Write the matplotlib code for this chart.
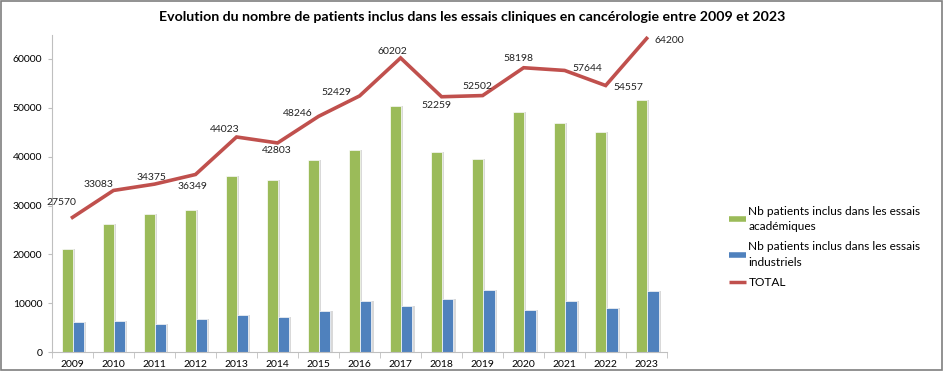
import matplotlib.pyplot as plt
from matplotlib.lines import Line2D
from matplotlib.patches import Rectangle
import numpy as np

plt.rcParams['font.family'] = ['Lato', 'DejaVu Sans']

years = ['2009', '2010', '2011', '2012', '2013', '2014', '2015', '2016',
         '2017', '2018', '2019', '2020', '2021', '2022', '2023']
academiques = [21000, 26300, 28300, 29000, 36000, 35200, 39300, 41400,
               50400, 41000, 39500, 49100, 46800, 45100, 51500]
industriels = [6100, 6350, 5800, 6800, 7600, 7200, 8500, 10500,
               9350, 10900, 12700, 8700, 10400, 9100, 12400]
total = [27570, 33083, 34375, 36349, 44023, 42803, 48246, 52429,
         60202, 52259, 52502, 58198, 57644, 54557, 64200]

# label offsets in pixels (dx, dy) relative to each point
label_off = [(-11, 15), (-15, 6), (-3, 7), (-3, -12), (-12, 7), (-1, -8),
             (-21, 3), (-23, 3), (-8, 6), (-5, -9), (-5, 9), (-5, 9),
             (23, 1.5), (23, -1.5), (23, -2.5)]

GREEN = '#9BBB59'
BLUE = '#4F81BD'
RED = '#C0504D'
AXC = '#bfbfbf'

fig = plt.figure(figsize=(9.45, 3.71), dpi=100)
ax = fig.add_axes([0.055, 0.051, 0.651, 0.856])

x = np.arange(len(years))
w = 0.27
# light shadows on the right side of bars
ax.bar(x - 0.13 + 0.05, academiques, w, color='#d9d9d9', zorder=1)
ax.bar(x + 0.155 + 0.05, industriels, w, color='#d9d9d9', zorder=1)
ax.bar(x - 0.13, academiques, w, color=GREEN, edgecolor='white', linewidth=0.5, zorder=2)
ax.bar(x + 0.155, industriels, w, color=BLUE, edgecolor='white', linewidth=0.5, zorder=2)
ax.plot(x, total, color=RED, lw=2.6, zorder=3, solid_joinstyle='miter')

for xi, v, (dx, dy) in zip(x, total, label_off):
    ax.annotate(str(v), (xi, v), xytext=(dx, dy), textcoords='offset pixels',
                ha='center', va='center', fontsize=7.5, color='#222222')

ax.set_xlim(-0.5, len(years) - 0.5)
ax.set_ylim(0, 65000)
ax.set_yticks(range(0, 60001, 10000))
ax.set_xticks(x)
ax.set_xticklabels(years)
ax.set_xticks(np.arange(-0.5, len(years), 1), minor=True)
ax.tick_params(axis='x', which='major', length=0, labelsize=7.5, pad=6)
ax.tick_params(axis='x', which='minor', length=4, color=AXC)
ax.tick_params(axis='y', length=3, color=AXC, labelsize=7.5, pad=4)
for s in ['top', 'right']:
    ax.spines[s].set_visible(False)
for s in ['left', 'bottom']:
    ax.spines[s].set_color(AXC)

fig.text(0.5, 0.955, 'Evolution du nombre de patients inclus dans les essais cliniques en cancérologie entre 2009 et 2023',
         ha='center', va='center', fontsize=10.2, fontweight='bold')

handles = [Line2D([], [], color=GREEN, lw=4, solid_capstyle='butt'),
           Line2D([], [], color=BLUE, lw=4, solid_capstyle='butt'),
           Line2D([], [], color=RED, lw=2.5, solid_capstyle='butt')]
labels = ['Nb patients inclus dans les essais\nacadémiques',
          'Nb patients inclus dans les essais\nindustriels',
          'TOTAL']
leg = fig.legend(handles, labels, loc='upper left', bbox_to_anchor=(0.771, 0.445),
                 frameon=False, fontsize=8.6, handlelength=1.45, handletextpad=0.2,
                 labelspacing=0.75, borderpad=0, borderaxespad=0)
for t in leg.get_texts():
    t.set_linespacing(1.5)

fig.add_artist(Rectangle((0.001, 0.002), 0.996, 0.995, transform=fig.transFigure,
                         fill=False, edgecolor='#7f7f7f', lw=1.2))

fig.savefig('out.png', dpi=100)
